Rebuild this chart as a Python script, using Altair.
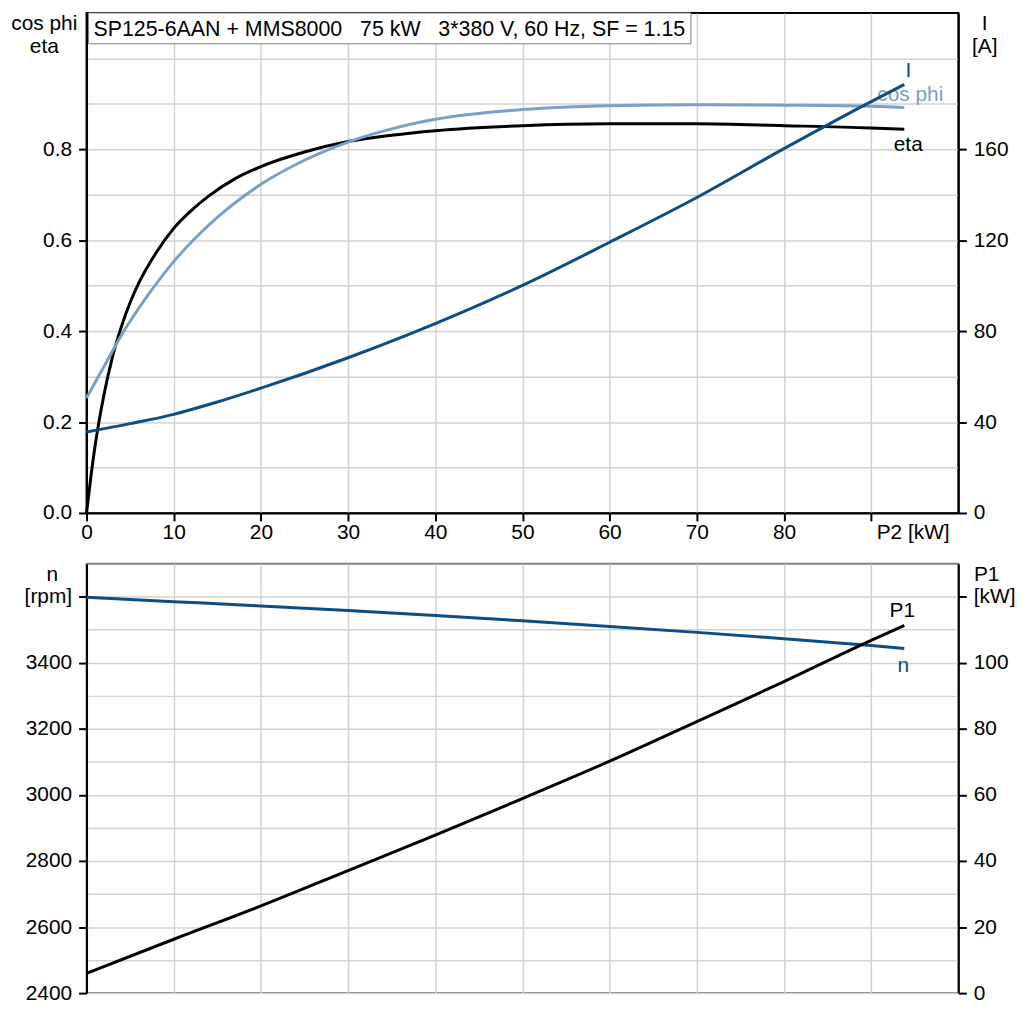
import altair as alt
import pandas as pd

# ---------------- data ----------------
P2_ETA = [0, 0.5, 1, 2, 3, 4, 5, 6, 8, 10, 12, 14, 17, 20, 25, 30, 35, 40, 50, 60, 70, 80, 90, 93.8]
ETA = [0, 0.08, 0.15, 0.26, 0.345, 0.41, 0.463, 0.506, 0.573, 0.626, 0.665, 0.697, 0.735, 0.762,
       0.794, 0.817, 0.831, 0.841, 0.852, 0.856, 0.856, 0.852, 0.847, 0.844]

P2_COS = [0, 2, 4, 7, 10, 14, 20, 25, 30, 35, 40, 50, 60, 70, 80, 90, 93.8]
COS_PHI = [0.253, 0.322, 0.391, 0.478, 0.553, 0.633, 0.723, 0.776, 0.816, 0.845, 0.866, 0.8875,
           0.896, 0.898, 0.897, 0.8946, 0.892]

P2_I = [0, 5, 10, 15, 20, 30, 40, 50, 60, 70, 80, 90, 93.8]
CURRENT = [35.6, 39.3, 43.4, 48.8, 54.9, 68.3, 83.3, 100.1, 119.1, 138.8, 160.3, 181.0, 188.5]

P2_N = [0, 10, 20, 30, 40, 50, 60, 70, 80, 90, 93.8]
SPEED = [3598, 3585, 3572, 3558, 3543, 3527, 3510, 3492, 3473, 3452, 3443]

P2_P1 = [0, 10, 20, 30, 40, 50, 60, 70, 80, 90, 93.8]
P1 = [6.0, 16.3, 26.4, 37.1, 47.8, 58.9, 70.2, 82.2, 94.3, 106.8, 111.3]

X_TICKS = [0, 10, 20, 30, 40, 50, 60, 70, 80, 90]
LEFT_TOP_GRID = [0, 0.1, 0.2, 0.3, 0.4, 0.5, 0.6, 0.7, 0.8, 0.9, 1.0]
RIGHT_TOP_TICKS = [0, 40, 80, 120, 160]
LEFT_BOT_GRID = [2400, 2500, 2600, 2700, 2800, 2900, 3000, 3100, 3200, 3300, 3400, 3500, 3600]
RIGHT_BOT_TICKS = [0, 20, 40, 60, 80, 100, 120]

NB3 = "\u00a0\u00a0\u00a0"
TITLE_TEXT = "SP125-6AAN + MMS8000" + NB3 + "75 kW" + NB3 + "3*380 V, 60 Hz, SF = 1.15"

# ---------------- styling ----------------
FONT = "Liberation Sans"
DARK = "#0e4c84"
LIGHT = "#7b9fc5"
GRID = "#d2d2d2"
FS = 21
W = 877
H_TOP = 503
H_BOT = 432


def y_axis(orient, values, label_expr, tick_test, title, title_x, title_y, grid, extent=None):
    kw = dict(
        orient=orient, values=values, labelExpr=label_expr, title=title,
        titleAngle=0, titleX=title_x, titleY=title_y, titleAlign="center",
        titleBaseline="alphabetic", titleFont=FONT, titleFontSize=FS,
        titleFontWeight="normal", titleColor="black", titleLineHeight=23,
        labelFont=FONT, labelFontSize=FS, labelColor="black", labelPadding=7,
        tickSize=8, tickColor="black", tickWidth=2, domainColor="black", domainWidth=2,
        grid=grid, gridColor=GRID, gridWidth=1.5,
    )
    if tick_test:
        kw["tickOpacity"] = {"condition": {"test": tick_test, "value": 1}, "value": 0}
    if extent:
        kw["minExtent"] = extent
        kw["maxExtent"] = extent
    return alt.Axis(**kw)


x_top = alt.X(
    "P2:Q",
    scale=alt.Scale(domain=[0, 100], nice=False),
    axis=alt.Axis(
        values=X_TICKS, title=None, grid=True, gridColor=GRID, gridWidth=1.5,
        labelExpr="datum.value == 90 ? 'P2 [kW]' : datum.label",
        labelAlign={"condition": {"test": "datum.value == 90", "value": "left"}, "value": "center"},
        labelOffset={"condition": {"test": "datum.value == 90", "value": 5}, "value": 0},
        labelFlush=False, labelFont=FONT, labelFontSize=FS, labelColor="black", labelPadding=1,
        tickSize=8, tickColor="black", tickWidth=2, domainColor="black", domainWidth=2,
    ),
)

x_bot = alt.X(
    "P2:Q",
    scale=alt.Scale(domain=[0, 100], nice=False),
    axis=alt.Axis(values=X_TICKS, title=None, grid=True, gridColor=GRID, gridWidth=1.5,
                  labels=False, ticks=False, domain=False),
)

# ---------------- top panel ----------------
even_02 = "datum.value <= 0.85 && round(datum.value * 10) % 2 == 0"
y_left_top = alt.Y(
    "v:Q", scale=alt.Scale(domain=[0, 1.1], nice=False, zero=False),
    axis=y_axis("left", LEFT_TOP_GRID,
                f"{even_02} ? format(datum.value, '.1f') : ''", even_02,
                ["cos phi", "eta"], -43, 17, True, extent=78),
)
y_right_top = alt.Y(
    "a:Q", scale=alt.Scale(domain=[0, 220], nice=False, zero=False),
    axis=y_axis("right", RIGHT_TOP_TICKS, "datum.label", None,
                ["I", "[A]"], 26, 17, False),
)

eta_df = pd.DataFrame({"P2": P2_ETA, "v": ETA})
cos_df = pd.DataFrame({"P2": P2_COS, "v": COS_PHI})
cur_df = pd.DataFrame({"P2": P2_I, "a": CURRENT})

eta_line = alt.Chart(eta_df).mark_line(color="black", strokeWidth=3, interpolate="monotone").encode(
    x=x_top, y=y_left_top)
cos_line = alt.Chart(cos_df).mark_line(color=LIGHT, strokeWidth=3, interpolate="monotone").encode(
    x=x_top, y=y_left_top)

eta_lab = alt.Chart(pd.DataFrame({"P2": [P2_ETA[-1]], "v": [ETA[-1]], "t": ["eta"]})).mark_text(
    font=FONT, fontSize=FS, color="black", dx=4, dy=16, baseline="middle").encode(
    x=x_top, y=y_left_top, text="t:N")
cos_lab = alt.Chart(pd.DataFrame({"P2": [P2_COS[-1]], "v": [COS_PHI[-1]], "t": ["cos phi"]})).mark_text(
    font=FONT, fontSize=FS, color=LIGHT, dx=6, dy=-13, baseline="middle").encode(
    x=x_top, y=y_left_top, text="t:N")

box_df = pd.DataFrame({"t": [TITLE_TEXT]})
box = alt.Chart(box_df).mark_rect(fill="white", stroke="#808080", strokeWidth=1).encode(
    x=alt.value(2), x2=alt.value(608), y=alt.value(0), y2=alt.value(31))
box_text = alt.Chart(box_df).mark_text(
    font=FONT, fontSize=21.5, color="black", align="left", baseline="alphabetic").encode(
    x=alt.value(7), y=alt.value(23), text="t:N")

cur_line = alt.Chart(cur_df).mark_line(color=DARK, strokeWidth=3, interpolate="monotone").encode(
    x=x_top, y=y_right_top)
cur_lab = alt.Chart(pd.DataFrame({"P2": [P2_I[-1]], "a": [CURRENT[-1]], "t": ["I"]})).mark_text(
    font=FONT, fontSize=FS, color=DARK, dx=4, dy=-14, baseline="middle").encode(
    x=x_top, y=y_right_top, text="t:N")

top_left = alt.layer(eta_line, cos_line, eta_lab, cos_lab, box, box_text)
top_right = alt.layer(cur_line, cur_lab)
top = alt.layer(top_left, top_right).resolve_scale(y="independent").properties(
    width=W, height=H_TOP, view=alt.ViewBackground(stroke="black", strokeWidth=2))

# ---------------- bottom panel ----------------
even_200 = "datum.value % 200 == 0"
y_left_bot = alt.Y(
    "rpm:Q", scale=alt.Scale(domain=[2400, 3700], nice=False, zero=False),
    axis=y_axis("left", LEFT_BOT_GRID,
                "datum.value == 3600 ? '[rpm]' : (datum.value % 200 == 0 ? datum.value : '')",
                even_200, "n", -35, 17, True, extent=78),
)
y_right_bot = alt.Y(
    "kw:Q", scale=alt.Scale(domain=[0, 130], nice=False, zero=False),
    axis=y_axis("right", RIGHT_BOT_TICKS, "datum.value == 120 ? '[kW]' : datum.label", None,
                "P1", 28, 17, False),
)

n_df = pd.DataFrame({"P2": P2_N, "rpm": SPEED})
p1_df = pd.DataFrame({"P2": P2_P1, "kw": P1})

n_line = alt.Chart(n_df).mark_line(color=DARK, strokeWidth=3, interpolate="monotone").encode(
    x=x_bot, y=y_left_bot)
n_lab = alt.Chart(pd.DataFrame({"P2": [P2_N[-1]], "rpm": [SPEED[-1]], "t": ["n"]})).mark_text(
    font=FONT, fontSize=FS, color=DARK, dx=-1, dy=18, baseline="middle").encode(
    x=x_bot, y=y_left_bot, text="t:N")

p1_line = alt.Chart(p1_df).mark_line(color="black", strokeWidth=3, interpolate="monotone").encode(
    x=x_bot, y=y_right_bot)
p1_lab = alt.Chart(pd.DataFrame({"P2": [P2_P1[-1]], "kw": [P1[-1]], "t": ["P1"]})).mark_text(
    font=FONT, fontSize=FS, color="black", dx=-2, dy=-14, baseline="middle").encode(
    x=x_bot, y=y_right_bot, text="t:N")

bottom = alt.layer(alt.layer(n_line, n_lab), alt.layer(p1_line, p1_lab)).resolve_scale(
    y="independent").properties(
    width=W, height=H_BOT, view=alt.ViewBackground(stroke="#808080", strokeWidth=2))

chart = alt.vconcat(top, bottom, spacing=19).properties(
    padding=0, background="white")

chart.save("out.html", embed_options={"renderer": "svg", "actions": False})
